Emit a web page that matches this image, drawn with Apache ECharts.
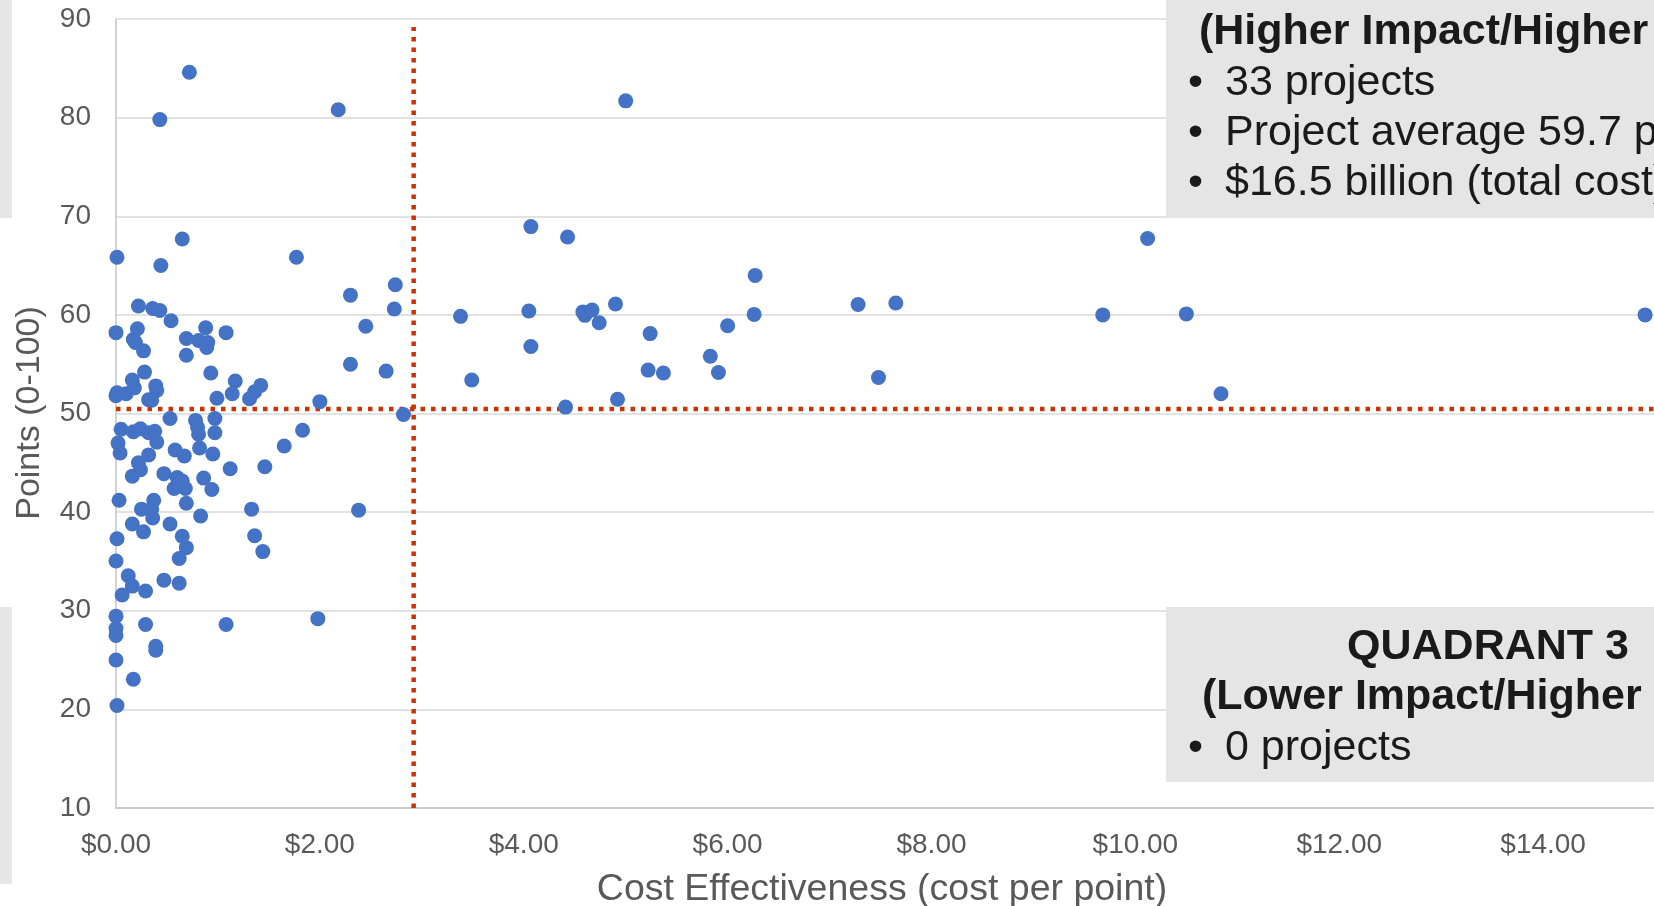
<!DOCTYPE html>
<html><head><meta charset="utf-8">
<script src="https://cdn.jsdelivr.net/npm/echarts@6/dist/echarts.min.js"></script>
<style>html,body{margin:0;padding:0;background:#fff}#c{width:1654px;height:906px}</style>
</head><body><div id="c"></div>
<script>
// Cost per point ($) and points (0-100) for each project
const costPerPoint = [
  0.72,0.43,2.18,0.65,0.01,0.44,1.77,2.30,2.74,2.73,2.45,2.30,2.65,2.00,2.82,1.83,1.65,1.46,2.38,1.33,
  1.36,1.44,1.42,1.17,1.14,1.36,1.31,0.99,0.93,1.08,0.88,0.90,0.89,0.81,0.69,0.69,0.54,0.43,0.36,0.22,
  0.00,0.21,0.17,0.19,0.27,0.28,0.16,0.18,0.10,0.00,0.01,0.39,0.40,0.32,0.35,0.53,0.78,0.80,0.81,0.97,
  0.97,0.82,0.95,0.58,0.67,1.12,0.86,0.94,0.47,0.60,0.65,0.57,0.68,0.69,0.83,0.05,0.17,0.24,0.32,0.38,
  0.40,0.02,0.04,0.32,0.22,0.24,0.16,0.03,0.37,0.25,0.35,0.36,0.16,0.27,0.53,0.01,0.65,0.69,0.62,0.00,
  0.12,0.47,0.62,0.16,0.06,0.29,0.00,0.00,0.00,0.29,0.39,0.39,1.08,1.98,0.00,0.17,0.01,
  4.07,4.43,6.27,3.38,4.05,4.58,4.60,4.67,4.74,4.90,6.26,7.28,7.65,4.07,3.49,5.24,5.22,5.37,5.83,5.91,
  6.00,7.48,4.92,4.41,5.00,9.68,10.12,10.50,10.84,15.00
];
const projectPoints = [
  84.6,79.8,80.8,67.7,65.85,65.0,65.85,62.0,63.05,60.6,58.85,55.0,54.3,51.2,49.9,48.3,46.7,44.6,40.2,40.3,
  37.6,36.0,52.85,53.3,52.0,52.2,51.5,51.55,54.1,58.2,58.7,57.2,56.7,57.4,57.6,55.9,59.4,60.45,60.65,60.9,
  58.2,58.6,57.5,57.2,56.35,54.2,53.4,52.6,52.0,51.8,52.1,52.8,52.35,51.4,51.35,49.5,49.3,48.6,47.9,49.5,
  48.05,46.5,45.9,46.3,45.7,44.4,43.45,42.3,43.9,43.5,43.15,42.4,42.4,40.9,39.6,48.4,48.15,48.45,48.05,48.2,
  47.1,47.0,46.0,45.8,45.0,44.3,43.65,41.2,41.2,40.3,40.3,39.4,38.8,38.0,38.8,37.3,37.55,36.4,35.3,35.05,
  33.55,33.1,32.8,32.5,31.6,32.0,29.45,28.2,27.5,28.6,26.4,26.0,28.6,29.2,25.0,23.05,20.4,
  68.95,67.9,64.0,59.85,60.4,60.3,59.95,60.5,59.2,61.1,60.05,61.05,61.2,56.8,53.4,58.1,54.4,54.1,55.8,54.15,
  58.9,53.65,51.45,50.65,81.7,60.0,67.75,60.1,52.0,60.0
];
// Quadrant divider thresholds
const costThreshold = 2.92;
const pointThreshold = 50.45;
const vDividerY = [10, 89.2];
const hDividerX = [0, 16];
// Axis ranges
const xAxisRange = [0, 16, 2];
const yAxisRange = [10, 90, 10];
// Texts
const xTitle = 'Cost Effectiveness (cost per point)';
const yTitle = 'Points (0-100)';
const q2Heading = '(Higher Impact/Higher Cost)';
const q2Bullets = ['33 projects', 'Project average 59.7 points', '$16.5 billion (total cost)'];
const q3Heading = 'QUADRANT 3';
const q3Sub = '(Lower Impact/Higher Cost)';
const q3Bullets = ['0 projects'];

const FONT = '"Liberation Sans", Arial, sans-serif';
const chart = echarts.init(document.getElementById('c'));

const txtStyle = (text, font, align) => ({text, font, fill:'#1a1a1a', textAlign:align, textVerticalAlign:'middle', align:align, verticalAlign:'middle'});
const graphics = [
  {type:'rect', shape:{x:0,y:0,width:12,height:218}, style:{fill:'#e6e6e6'}, z:100},
  {type:'rect', shape:{x:0,y:607,width:12,height:277}, style:{fill:'#e6e6e6'}, z:100},
  {type:'rect', shape:{x:1166,y:0,width:500,height:218}, style:{fill:'#e5e5e5'}, z:100},
  {type:'rect', shape:{x:1166,y:607,width:500,height:175}, style:{fill:'#e5e5e5'}, z:100},
  {type:'text', x:882, y:890, z:101, style:{text:xTitle, font:'37.5px '+FONT, fill:'#595959', textAlign:'center', textVerticalAlign:'middle', align:'center', verticalAlign:'middle'}},
  {type:'text', x:30, y:413, rotation:Math.PI/2, z:101, style:{text:yTitle, font:'34px '+FONT, fill:'#595959', textAlign:'center', textVerticalAlign:'middle', align:'center', verticalAlign:'middle'}},
  {type:'text', x:1199, y:32, z:101, style:txtStyle(q2Heading, 'bold 43px '+FONT, 'left')},
  {type:'text', x:1488, y:647, z:101, style:txtStyle(q3Heading, 'bold 43px '+FONT, 'center')},
  {type:'text', x:1202, y:697, z:101, style:txtStyle(q3Sub, 'bold 43px '+FONT, 'left')}
];
const bulletLine = (txt, y) => [
  {type:'text', x:1188, y:y, z:101, style:txtStyle('•', '43px '+FONT, 'left')},
  {type:'text', x:1225, y:y, z:101, style:txtStyle(txt, '43px '+FONT, 'left')}
];
q2Bullets.forEach((t,i)=>graphics.push(...bulletLine(t, 83 + i*50)));
q3Bullets.forEach((t,i)=>graphics.push(...bulletLine(t, 748 + i*50)));

chart.setOption({
  animation:false,
  backgroundColor:'#ffffff',
  grid:{left:116, top:19, right:-93, bottom:98, containLabel:false, outerBoundsMode:'none'},
  xAxis:{type:'value', min:xAxisRange[0], max:xAxisRange[1], interval:xAxisRange[2],
    axisLine:{show:true, lineStyle:{color:'#c4c4c4', width:1.5}},
    axisTick:{show:false}, splitLine:{show:false},
    axisLabel:{fontSize:28, color:'#595959', fontFamily:FONT, margin:23, formatter:v=>'$'+v.toFixed(2)}},
  yAxis:{type:'value', min:yAxisRange[0], max:yAxisRange[1], interval:yAxisRange[2],
    axisLine:{show:true, lineStyle:{color:'#c4c4c4', width:1.5}},
    axisTick:{show:false},
    splitLine:{show:true, lineStyle:{color:'#d9d9d9', width:1.5}},
    axisLabel:{fontSize:28, color:'#595959', fontFamily:FONT, margin:25}},
  graphic:graphics,
  series:[
    {type:'line', data:vDividerY.map(y=>[costThreshold,y]), symbol:'none', silent:true, z:2,
      lineStyle:{color:'#cc3300', width:4.5, type:[4.5,6], cap:'butt'}},
    {type:'line', data:hDividerX.map(x=>[x,pointThreshold]), symbol:'none', silent:true, z:2,
      lineStyle:{color:'#cc3300', width:4.5, type:[4.5,6], cap:'butt'}},
    {type:'scatter', data:costPerPoint.map((x,i)=>[x, projectPoints[i]]), symbolSize:15, z:3,
      itemStyle:{color:'#4472c4', opacity:1}}
  ]
});
</script></body></html>
